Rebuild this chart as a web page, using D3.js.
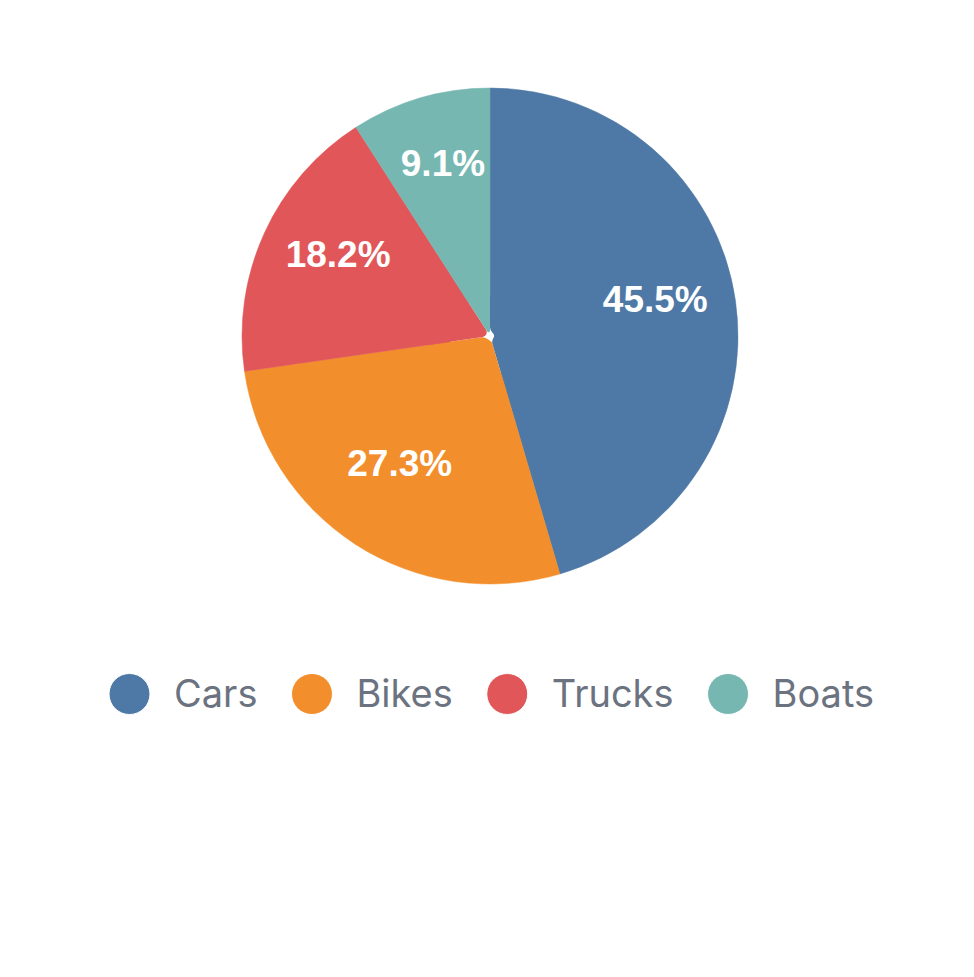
<!DOCTYPE html>
<html><head><meta charset="utf-8">
<script src="https://cdn.jsdelivr.net/npm/d3@7"></script>
<style>html,body{margin:0;padding:0;background:#fff;}</style>
</head><body>
<svg id="c" width="974" height="977"></svg>
<script>
const categories = ["Cars", "Bikes", "Trucks", "Boats"];
const values = [50, 30, 20, 10];
const colors = ["#4e79a7", "#f28e2b", "#e15759", "#76b7b2"];

const svg = d3.select("#c");
const cx = 490, cy = 336, r = 248;
const total = d3.sum(values);
const data = categories.map((c, i) => ({ name: c, value: values[i], color: colors[i] }));

const pie = d3.pie().value(d => d.value).sort(null);
// outer part: sharp corners at the rim
const arcOuter = d3.arc().innerRadius(40).outerRadius(r);
// inner part: slightly rounded apex at the centre
const arcInner = d3.arc().innerRadius(4).outerRadius(70).cornerRadius(8);
const labelArc = d3.arc().innerRadius(167).outerRadius(167);

const g = svg.append("g").attr("transform", `translate(${cx},${cy})`);
const arcs = pie(data);
const slices = g.selectAll("g.slice").data(arcs).join("g").attr("class", "slice");
slices.append("path").attr("d", arcOuter).attr("fill", d => d.data.color)
  .attr("stroke", d => d.data.color).attr("stroke-width", 0.5);
slices.append("path").attr("d", arcInner).attr("fill", d => d.data.color);

g.selectAll("text").data(arcs).join("text")
  .attr("transform", d => { const [x, y] = labelArc.centroid(d); return `translate(${x},${y})`; })
  .attr("text-anchor", "middle")
  .attr("fill", "#fff")
  .style("font-family", "'Liberation Sans', Arial, sans-serif")
  .style("font-weight", "bold")
  .style("font-size", "37px")
  .text(d => (d.data.value / total * 100).toFixed(1) + "%");

// legend
const legend = svg.append("g");
const ly = 694;
let x = 109;
data.forEach(d => {
  const item = legend.append("g");
  item.append("circle").attr("cx", x + 20.5).attr("cy", ly).attr("r", 20.5)
    .attr("fill", d.color).attr("stroke", "#fff").attr("stroke-width", 1);
  const t = item.append("text").attr("x", x + 65).attr("y", ly).attr("dy", "0.35em")
    .attr("fill", "#6b7280")
    .style("font-family", "Inter, sans-serif").style("font-size", "38px")
    .text(d.name);
  const w = t.node().getComputedTextLength();
  x = x + 65 + w + 34;
});
</script>
</body></html>
